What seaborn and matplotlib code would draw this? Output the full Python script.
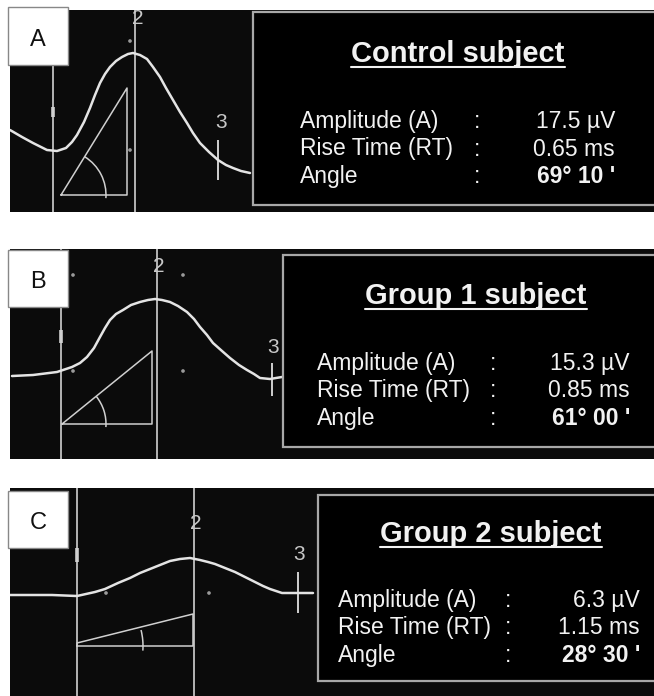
import matplotlib.pyplot as plt
from matplotlib.patches import Rectangle, Arc
import seaborn as sns
import pandas as pd

# values (pixel units of the original screenshot)
panel_names = ['A', 'B', 'C']
titles = ['Control subject', 'Group 1 subject', 'Group 2 subject']
row_labels = ['Amplitude (A)', 'Rise Time (RT)', 'Angle']
amplitudes = ['17.5 µV', '15.3 µV', '6.3 µV']
rise_times = ['0.65 ms', '0.85 ms', '1.15 ms']
angles = ["69° 10 '", "61° 00 '", "28° 30 '"]

wave_a_x = [10, 22, 33, 47, 57, 66, 72, 77, 84, 90, 95, 100, 105, 110, 116, 122, 128, 133,
            140, 147, 153, 160, 166, 173, 180, 187, 193, 200, 209, 218, 226, 233, 241, 250]
wave_a_y = [130, 137, 143, 150, 151, 148, 142, 135, 122, 108, 95, 83, 74, 67, 61, 57, 54, 53,
            55, 59, 67, 77, 88, 100, 112, 123, 133, 143, 152, 160, 165, 168, 171, 173]
wave_b_x = [12, 33, 57, 72, 80, 87, 94, 100, 105, 110, 116, 123, 131, 140, 148, 155, 162, 170,
            178, 187, 194, 200, 207, 213, 222, 230, 239, 247, 254, 260, 270, 282]
wave_b_y = [376, 375, 372, 367, 363, 357, 348, 337, 328, 320, 314, 310, 305, 302, 300, 299, 300, 302,
            306, 312, 319, 327, 335, 343, 351, 358, 365, 370, 374, 378, 379, 377]
wave_c_x = [10, 52, 77, 86, 95, 105, 118, 130, 140, 150, 160, 170, 180, 190, 200, 208, 215,
            225, 235, 245, 255, 263, 270, 276, 282, 313]
wave_c_y = [595, 595, 596, 594, 592, 589, 583, 578, 573, 569, 565, 561, 559, 558, 560, 562, 564,
            568, 572, 577, 582, 586, 589, 591, 593, 593]

tri_a_x = [61, 127, 127, 61]
tri_a_y = [195, 195, 88, 195]
tri_b_x = [62, 152, 152, 62]
tri_b_y = [424, 424, 351, 424]
tri_c_x = [77, 193, 193, 77, 77]
tri_c_y = [646, 646, 614, 643, 646]

# cursors 1, 2, 3 and their markers
cursor1_x = [53, 61, 77]
cursor1_mark = [(107, 117), (330, 343), (548, 562)]
cursor2_x = [135, 157, 194]
cursor3_x = [218, 272, 298]
cursor3_span = [(140, 180), (363, 396), (572, 613)]
dots_x = [[130, 130], [73, 183, 73, 183], [106, 209]]
dots_y = [[41, 150], [275, 275, 371, 371], [593, 593]]
arc_r = [45, 44, 66]
arc_deg = [58, 39, 14]

waves = [(wave_a_x, wave_a_y), (wave_b_x, wave_b_y), (wave_c_x, wave_c_y)]
tris = [(tri_a_x, tri_a_y), (tri_b_x, tri_b_y), (tri_c_x, tri_c_y)]

# layout (pixels)
W, H = 654, 696
frames = [(10, 10, 654, 212), (10, 249, 654, 459), (10, 488, 654, 696)]
label_boxes = [(8, 7, 68, 65), (8, 250, 68, 307), (8, 491, 68, 548)]
label_base = [46, 288, 529]
num2_pos = [(138, 24), (159, 272), (196, 529)]
num3_pos = [(221, 128), (273, 353), (299, 560)]
info_boxes = [(253, 12, 662, 205), (283, 255, 662, 447), (318, 495, 662, 681)]
title_pos = [(458, 62), (476, 304), (491, 542)]
col_x = [(300, 477, 615), (317, 493, 630), (338, 508, 640)]
row_base = [(128, 155.5, 183), (370, 397, 425), (607, 634, 662)]

sns.set_theme(style='white')
plt.rcParams['font.family'] = ['Liberation Sans', 'DejaVu Sans']

LINE = '#d0d0d0'
WAVE = '#e4e4e4'
TXT = '#f2f2f2'

fig = plt.figure(figsize=(W / 100, H / 100), dpi=100)
fig.patch.set_facecolor('white')

for i in range(3):
    l, t, r, b = frames[i]
    ax = fig.add_axes([l / W, 1 - b / H, (r - l) / W, (b - t) / H])
    ax.set_facecolor('#0b0b0b')
    for s in ax.spines.values():
        s.set_visible(False)

    # cursors
    ax.vlines([cursor1_x[i], cursor2_x[i]], t, b, color=LINE, lw=1.2, zorder=2)
    ax.vlines(cursor1_x[i], *cursor1_mark[i], color=LINE, lw=2.6, zorder=2)
    ax.vlines(cursor3_x[i], *cursor3_span[i], color=LINE, lw=1.4, zorder=2)

    wx, wy = waves[i]
    sns.lineplot(x=wx, y=wy, ax=ax, color=WAVE, lw=1.8, estimator=None,
                 sort=False, zorder=3)
    tx, ty = tris[i]
    sns.lineplot(x=tx, y=ty, ax=ax, color=LINE, lw=1.1, estimator=None,
                 sort=False, zorder=3)
    sns.scatterplot(x=dots_x[i], y=dots_y[i], ax=ax, color='#9a9a9a', s=7,
                    edgecolor='none', zorder=3)
    ax.add_patch(Arc((tx[0], ty[0]), 2 * arc_r[i], 2 * arc_r[i],
                     theta1=-arc_deg[i], theta2=4, color=LINE, lw=1.1, zorder=3))
    ax.set_xlabel('')
    ax.set_ylabel('')
    ax.set_xticks([])
    ax.set_yticks([])
    ax.set_xlim(l, r)
    ax.set_ylim(b, t)

    ax.text(*num2_pos[i], '2', color='#c8c8c8', fontsize=15, ha='center',
            va='baseline', zorder=4)
    ax.text(*num3_pos[i], '3', color='#c8c8c8', fontsize=15, ha='center',
            va='baseline', zorder=4)

    # letter box
    bl, bt, br, bb = label_boxes[i]
    ax.add_patch(Rectangle((bl, bt), br - bl, bb - bt, facecolor='white',
                           edgecolor='#888888', lw=1.0, zorder=5, clip_on=False))
    ax.text((bl + br) / 2, label_base[i], panel_names[i], fontsize=17,
            color='#111111', ha='center', va='baseline', zorder=6, clip_on=False)

    # info box
    il, it, ir, ib = info_boxes[i]
    ax.add_patch(Rectangle((il, it), ir - il, ib - it, facecolor='black',
                           edgecolor='#a8a8a8', lw=1.6, zorder=5))
    tl = ax.text(*title_pos[i], titles[i], fontsize=21, fontweight='bold',
                 color=TXT, ha='center', va='baseline', zorder=6)
    fig.canvas.draw()
    bb_ = tl.get_window_extent().transformed(ax.transData.inverted())
    uy = title_pos[i][1] + 4.5
    ax.plot([bb_.x0, bb_.x1], [uy, uy], color=TXT, lw=1.5, zorder=6)

    values = [amplitudes[i], rise_times[i], angles[i]]
    lx, cx, vx = col_x[i]
    for k in range(3):
        y = row_base[i][k]
        ax.text(lx, y, row_labels[k], fontsize=16.5, color=TXT, va='baseline', zorder=6)
        ax.text(cx, y, ':', fontsize=16.5, color=TXT, ha='center', va='baseline', zorder=6)
        ax.text(vx, y, values[k], fontsize=16.5, color=TXT, ha='right', va='baseline',
                fontweight='bold' if k == 2 else 'normal', zorder=6)

fig.savefig('out.png', dpi=100, facecolor='white')
